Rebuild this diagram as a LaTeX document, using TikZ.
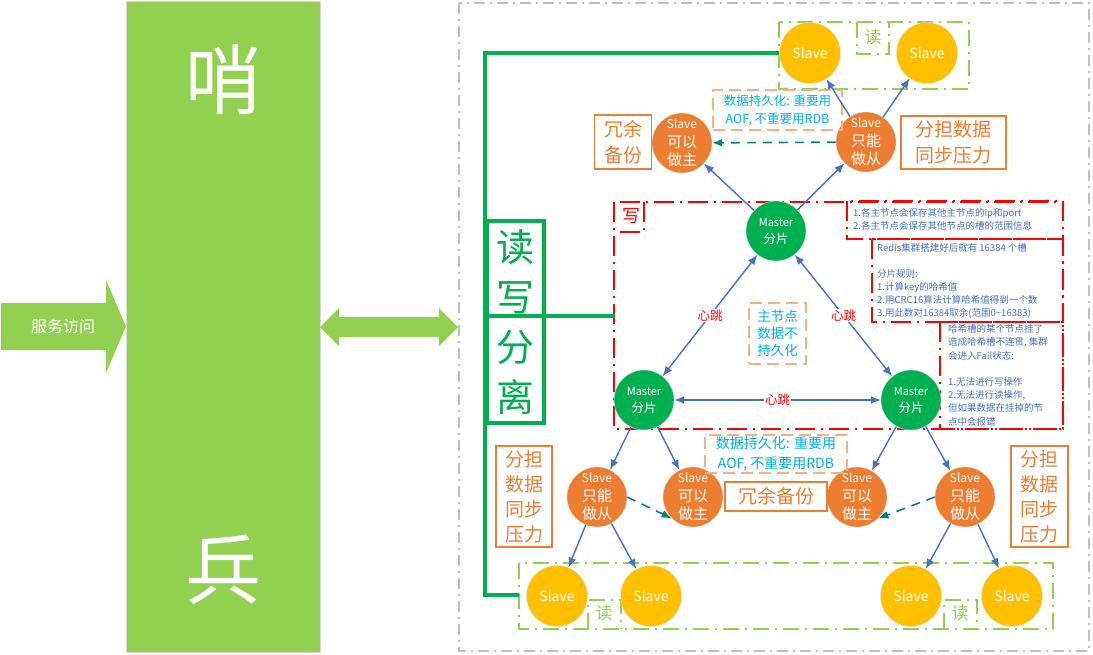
\documentclass[tikz,border=0pt]{standalone}
\usepackage{fontspec}
\setmainfont{Noto Sans CJK SC}
\usetikzlibrary{arrows.meta}
\definecolor{lgreen}{HTML}{92D050}
\definecolor{dgreen}{HTML}{00B050}
\definecolor{sorange}{HTML}{ED7D31}
\definecolor{ryellow}{HTML}{FFC000}
\definecolor{lblue}{HTML}{4472C4}
\definecolor{dteal}{HTML}{00827F}
\definecolor{pcyan}{HTML}{00B0F0}
\definecolor{porange}{HTML}{F4B183}
\definecolor{fgray}{HTML}{BFBFBF}

\begin{document}
\begin{tikzpicture}[x=1pt,y=-1pt,>={Latex[length=10pt,width=8pt]},
 master/.style={circle,fill=dgreen,draw=black!12,minimum size=60,inner sep=0,text=white,align=center,font=\fontsize{12.5}{17}\selectfont},
 slave/.style={circle,fill=sorange,draw=black!12,minimum size=60,inner sep=0,text=white,align=center,font=\fontsize{15}{18.5}\selectfont},
 reader/.style={circle,fill=ryellow,draw=black!12,minimum size=61,inner sep=0,text=white,font=\fontsize{14}{16}\selectfont},
 link/.style={draw=lblue,line width=1.4},
 copyline/.style={draw=dteal,line width=1.6,dash pattern=on 9 off 7},
 beat/.style={fill=white,text=red,inner sep=1,font=\fontsize{12.5}{14}\selectfont},
 note/.style={draw=sorange,line width=1.5,text=sorange,align=center,inner sep=0,font=\fontsize{19}{26}\selectfont},
 persist/.style={draw=porange,line width=2,dash pattern=on 12 off 6,text=pcyan,align=center,inner sep=0},
 redbox/.style={draw=red,line width=2.7,dash pattern=on 20 off 6 on 2 off 6},
 readbox/.style={draw=lgreen,line width=2.2,dash pattern=on 16 off 6 on 2 off 6},
 readlabel/.style={text=lgreen,font=\fontsize{17}{17}\selectfont},
 info/.style={anchor=north west,inner sep=0,align=left,text=lblue,font=\fontsize{9.5}{13}\selectfont},
 bracket/.style={draw=dgreen,line width=4}]
 \useasboundingbox (0,0) rectangle (1093,654);
 \fill[lgreen] (1,303) -- (106,303) -- (106,280) -- (126,326.5) -- (106,373) -- (106,350) -- (1,350) -- cycle;
 \node[text=white,font=\fontsize{16}{16}\selectfont] (access) at (63,326.5) {服务访问};
 \node[fill=lgreen,draw=black!15,minimum width=194,minimum height=651,inner sep=0] (sentinel) at (223,326.5) {};
 \node[text=white,font=\fontsize{76}{76}\selectfont] at (223,80) {哨};
 \node[text=white,font=\fontsize{76}{76}\selectfont] at (223,570) {兵};
 \fill[lgreen] (320,327) -- (339,308) -- (339,317) -- (439,317) -- (439,308) -- (458,327) -- (439,346) -- (439,337) -- (339,337) -- (339,346) -- cycle;
 \draw[fgray,line width=2,dash pattern=on 11 off 5 on 2 off 5] (459,3) rectangle (1089,651);

 \draw[redbox] (614,202) rectangle (1063,429);
 \draw[redbox] (644,202) -- (644,232) -- (614,232);
 \node[text=red,font=\fontsize{18}{18}\selectfont] at (631,216) {写};
 \draw[redbox] (847,201) rectangle (1063,239);
 \draw[redbox] (872,239) rectangle (1063,322);
 \draw[redbox] (940,322) rectangle (1063,429);
 \node[info] at (853,208) {1.各主节点会保存其他主节点的ip和port\\2.各主节点会保存其他节点的槽的范围信息};
 \node[info] at (877,243.5) {Redis集群搭建好后就有 16384 个槽\\\mbox{}\\分片规则:\\1.计算key的哈希值\\2.用CRC16算法计算哈希值得到一个数\\3.用此数对16384取余(范围0\textasciitilde16383)};
 \node[info,font=\fontsize{9.5}{13.2}\selectfont] at (948,324.5) {哈希槽的某个节点挂了\\造成哈希槽不连贯, 集群\\会进入Fail状态:\\\mbox{}\\1.无法进行写操作\\2.无法进行读操作,\\但如果数据在挂掉的节\\点中会报错};

 \draw[readbox] (779,22) rectangle (969,89);
 \draw[readbox] (857,22) -- (857,54) -- (889,54) -- (889,22);
 \node[readlabel] at (873,37) {读};
 \draw[readbox] (519,563) rectangle (1053,629);
 \draw[readbox] (588,629) -- (588,600) -- (621,600) -- (621,629);
 \draw[readbox] (944,629) -- (944,600) -- (977,600) -- (977,629);
 \node[readlabel] at (604,613) {读};
 \node[readlabel] at (960,613) {读};

 \node[draw=dgreen,line width=4,minimum width=57,minimum height=202,inner sep=0,text=dgreen,align=center,font=\fontsize{38}{50}\selectfont] (rw) at (515.5,322) {读\\写\\分\\离};
 \coordinate (wbox) at (615,316);
 \coordinate (rbox) at (519,595);

 \node[master] (mtop) at (776,231) {{\fontsize{11}{17}\selectfont Master}\\分片};
 \node[master] (mleft) at (644,400) {{\fontsize{11}{17}\selectfont Master}\\分片};
 \node[master] (mright) at (911,400) {{\fontsize{11}{17}\selectfont Master}\\分片};
 \node[slave] (stl) at (682,143) {{\fontsize{12}{18}\selectfont Slave}\\可以\\做主};
 \node[slave] (str) at (866,142) {{\fontsize{12}{18}\selectfont Slave}\\只能\\做从};
 \node[slave] (sbl1) at (597,497) {{\fontsize{12}{18}\selectfont Slave}\\只能\\做从};
 \node[slave] (sbl2) at (693,497) {{\fontsize{12}{18}\selectfont Slave}\\可以\\做主};
 \node[slave] (sbr1) at (857,497) {{\fontsize{12}{18}\selectfont Slave}\\可以\\做主};
 \node[slave] (sbr2) at (965,497) {{\fontsize{12}{18}\selectfont Slave}\\只能\\做从};
 \node[reader] (rtl) at (810,53) {Slave};
 \node[reader] (rtr) at (927,53) {Slave};
 \node[reader] (rbl1) at (557,596) {Slave};
 \node[reader] (rbl2) at (651,596) {Slave};
 \node[reader] (rbr1) at (911,596) {Slave};
 \node[reader] (rbr2) at (1012,596) {Slave};

 \draw[bracket] (rtl.west) -| (rbox -| rw.west) -- (rbox);
 \draw[bracket] (wbox -| rw.west) -- (wbox);

 \node[note,minimum width=57,minimum height=54] (redtop) at (623,142) {冗余\\备份};
 \node[note,minimum width=105,minimum height=53] (loadtop) at (953.5,142.5) {分担数据\\同步压力};
 \node[note,minimum width=102,minimum height=29] (redbot) at (776,496.5) {冗余备份};
 \node[note,minimum width=56,minimum height=101,font=\fontsize{19}{25}\selectfont] (loadleft) at (524,496.5) {分担\\数据\\同步\\压力};
 \node[note,minimum width=57,minimum height=101,font=\fontsize{19}{25}\selectfont] (loadright) at (1039.5,496.5) {分担\\数据\\同步\\压力};
 \node[persist,minimum width=129,minimum height=40,font=\fontsize{12.5}{18}\selectfont] (aoftop) at (777.5,110) {数据持久化: 重要用\\AOF, 不重要用RDB};
 \node[persist,minimum width=142,minimum height=38,font=\fontsize{14}{20}\selectfont] (aofbot) at (776,454) {数据持久化: 重要用\\AOF, 不重要用RDB};
 \node[persist,minimum width=57,minimum height=61,font=\fontsize{13.5}{17}\selectfont] (nopersist) at (777.5,333.5) {主节点\\数据不\\持久化};

 \draw[link,<->] (mtop) -- node[beat]{心跳} (mleft);
 \draw[link,<->] (mtop) -- node[beat]{心跳} (mright);
 \draw[link,<->] (mleft) -- node[beat]{心跳} (mright);
 \foreach \a/\b in {mtop/stl,mtop/str,str/rtl,str/rtr,mleft/sbl1,mleft/sbl2,mright/sbr1,mright/sbr2,sbl1/rbl1,sbl1/rbl2,sbr2/rbr1,sbr2/rbr2}
  \draw[link,->] (\a) -- (\b);
 \draw[copyline,->] (str) -- (stl);
 \draw[copyline,->] (sbl1.east) -- (sbl2.south west);
 \draw[copyline,->] (sbr2.west) -- (sbr1.south east);
\end{tikzpicture}
\end{document}
